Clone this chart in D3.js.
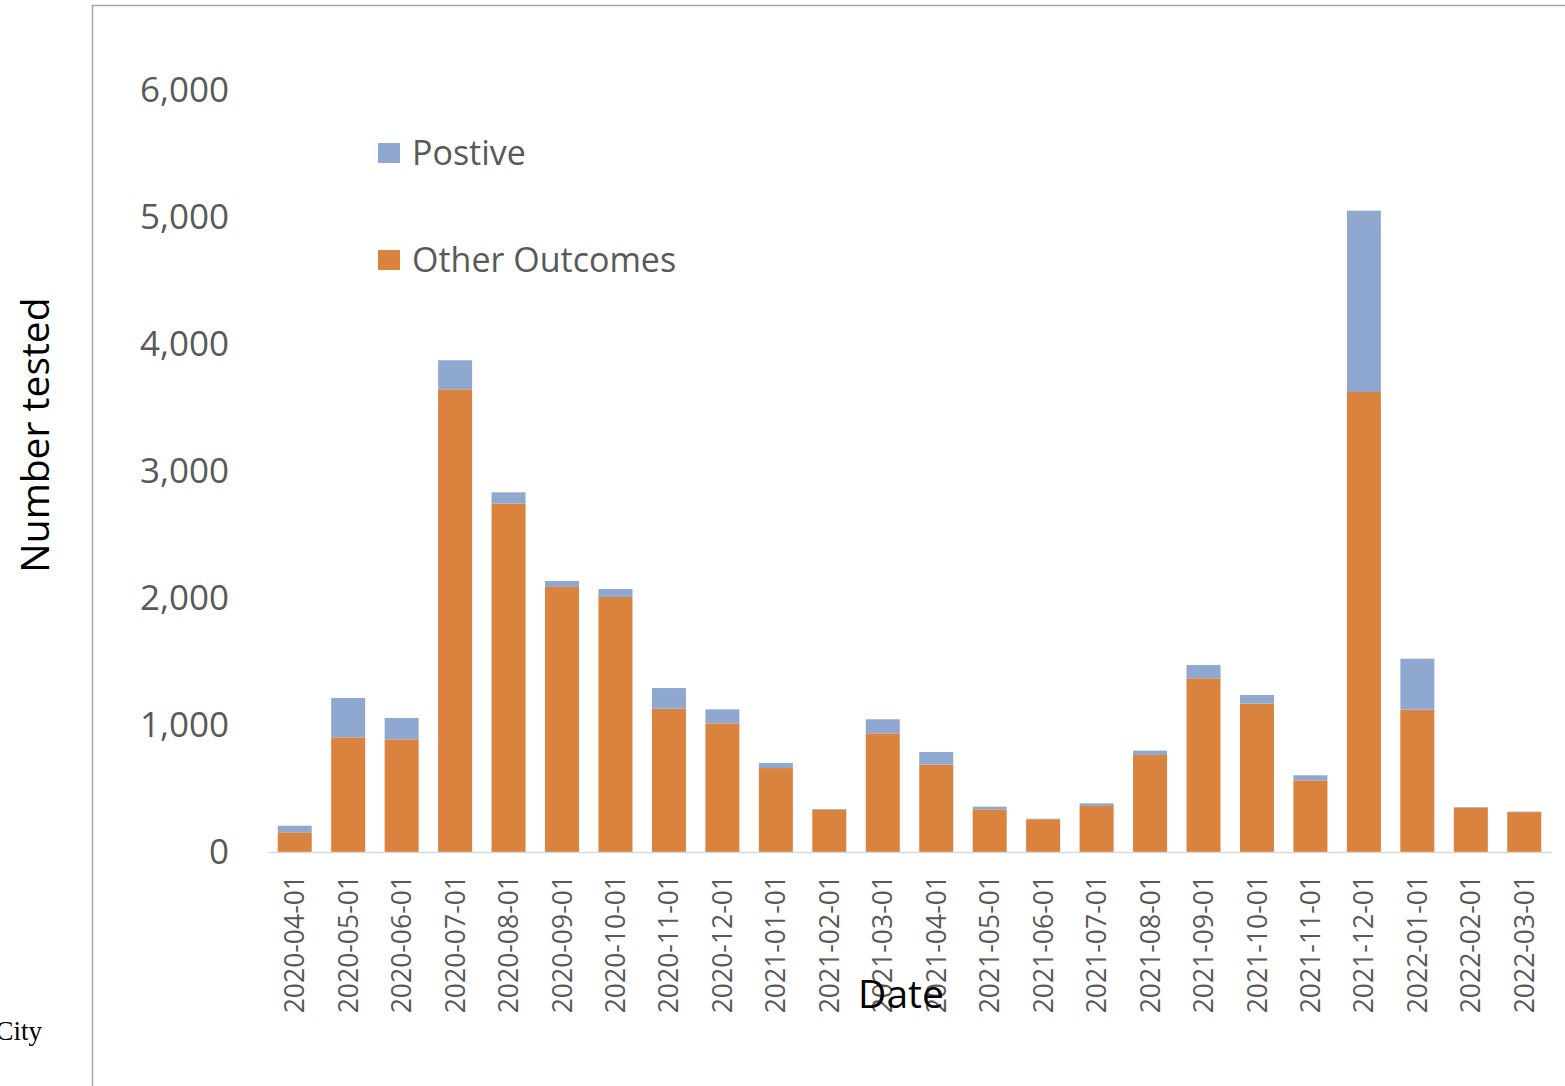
<!DOCTYPE html>
<head>
	<meta charset="utf-8">
	<script src="https://d3js.org/d3.v7.min.js"></script>
	<style>
		body { margin: 0; background: #fff; }
		svg { display: block; }
	</style>
</head>
<body>
<svg></svg>
<script>
	// months on the x axis
	var months = ['2020-04-01', '2020-05-01', '2020-06-01', '2020-07-01', '2020-08-01', '2020-09-01',
		'2020-10-01', '2020-11-01', '2020-12-01', '2021-01-01', '2021-02-01', '2021-03-01',
		'2021-04-01', '2021-05-01', '2021-06-01', '2021-07-01', '2021-08-01', '2021-09-01',
		'2021-10-01', '2021-11-01', '2021-12-01', '2022-01-01', '2022-02-01', '2022-03-01'];

	var otherOutcomes = [155, 903, 887, 3643, 2743, 2087, 2008, 1128, 1013, 661, 332, 934,
		688, 336, 258, 362, 764, 1368, 1168, 564, 3622, 1121, 350, 314];
	var positive = [52, 310, 168, 229, 89, 47, 63, 163, 110, 40, 6, 111,
		99, 21, 4, 21, 34, 104, 68, 40, 1428, 401, 4, 4];

	var yTicks = [0, 1000, 2000, 3000, 4000, 5000, 6000];
	var seriesNames = ['Other Outcomes', 'Postive'];
	var colors = {'Other Outcomes': '#d9833e', 'Postive': '#8fa8d0'};

	var width = 1565, height = 1086;
	var svg = d3.select('svg').attr('width', width).attr('height', height);

	var rows = months.map(function (m, i) {
		return {month: m, 'Other Outcomes': otherOutcomes[i], 'Postive': positive[i]};
	});
	var stacked = d3.stack().keys(seriesNames)(rows);

	var x = d3.scaleBand().domain(months).range([268, 1551]).paddingInner(0.364).paddingOuter(0.182);
	var y = d3.scaleLinear().domain([0, 6000]).range([852, 90]);

	/* ----------- frame ----------- */
	svg.append('path')
		.attr('d', 'M92.5,1086V5.5H' + width)
		.attr('fill', 'none')
		.attr('stroke', '#a6a6a6')
		.attr('stroke-width', 1.5);

	/* ----------- bars ----------- */
	svg.append('g').selectAll('g')
		.data(stacked)
		.join('g')
		.attr('fill', function (d) { return colors[d.key]; })
		.selectAll('rect')
		.data(function (d) { return d; })
		.join('rect')
		.attr('x', function (d) { return x(d.data.month); })
		.attr('width', x.bandwidth())
		.attr('y', function (d) { return y(d[1]); })
		.attr('height', function (d) { return y(d[0]) - y(d[1]); });

	/* ----------- y axis ----------- */
	var yAxis = svg.append('g')
		.attr('transform', 'translate(268,0)')
		.call(d3.axisLeft(y).tickValues(yTicks).tickFormat(d3.format(',')).tickSize(0).tickPadding(39));
	yAxis.select('.domain').remove();
	yAxis.selectAll('text')
		.attr('font-family', 'Open Sans')
		.attr('font-size', 35)
		.attr('fill', '#595959');

	/* ----------- x axis ----------- */
	var xAxis = svg.append('g')
		.attr('transform', 'translate(0,852)')
		.call(d3.axisBottom(x).tickSize(0).tickSizeOuter(0));
	xAxis.select('.domain')
		.attr('stroke', '#d9d9d9')
		.attr('stroke-width', 1.5);
	xAxis.selectAll('text')
		.attr('font-family', 'Open Sans')
		.attr('font-size', 26.5)
		.attr('fill', '#595959')
		.attr('text-anchor', 'end')
		.attr('y', 0)
		.attr('dy', '0.36em')
		.attr('transform', 'translate(0,23) rotate(-90)');

	/* ----------- titles ----------- */
	svg.append('text')
		.attr('transform', 'translate(49,435) rotate(-90)')
		.attr('text-anchor', 'middle')
		.attr('font-family', 'Open Sans')
		.attr('font-size', 39)
		.attr('fill', '#000')
		.text('Number tested');

	svg.append('text')
		.attr('x', 901)
		.attr('y', 1008)
		.attr('text-anchor', 'middle')
		.attr('font-family', 'Open Sans')
		.attr('font-size', 39)
		.attr('fill', '#000')
		.text('Date');

	// partly clipped label at the left edge, as in the source
	svg.append('text')
		.attr('x', 42)
		.attr('y', 1040)
		.attr('text-anchor', 'end')
		.attr('font-family', 'Liberation Serif')
		.attr('font-size', 27)
		.attr('fill', '#000')
		.text('City');

	/* ----------- legend ----------- */
	var legendItems = ['Postive', 'Other Outcomes'];
	var legend = svg.append('g').selectAll('g')
		.data(legendItems)
		.join('g')
		.attr('transform', function (d, i) { return 'translate(378,' + (153 + i * 107) + ')'; });

	legend.append('rect')
		.attr('x', 0)
		.attr('y', -10)
		.attr('width', 22)
		.attr('height', 20)
		.attr('fill', function (d) { return colors[d]; });

	legend.append('text')
		.attr('x', 34)
		.attr('y', 0)
		.attr('dy', '0.35em')
		.attr('font-family', 'Open Sans')
		.attr('font-size', 34)
		.attr('fill', '#595959')
		.text(function (d) { return d; });
</script>
</body>
